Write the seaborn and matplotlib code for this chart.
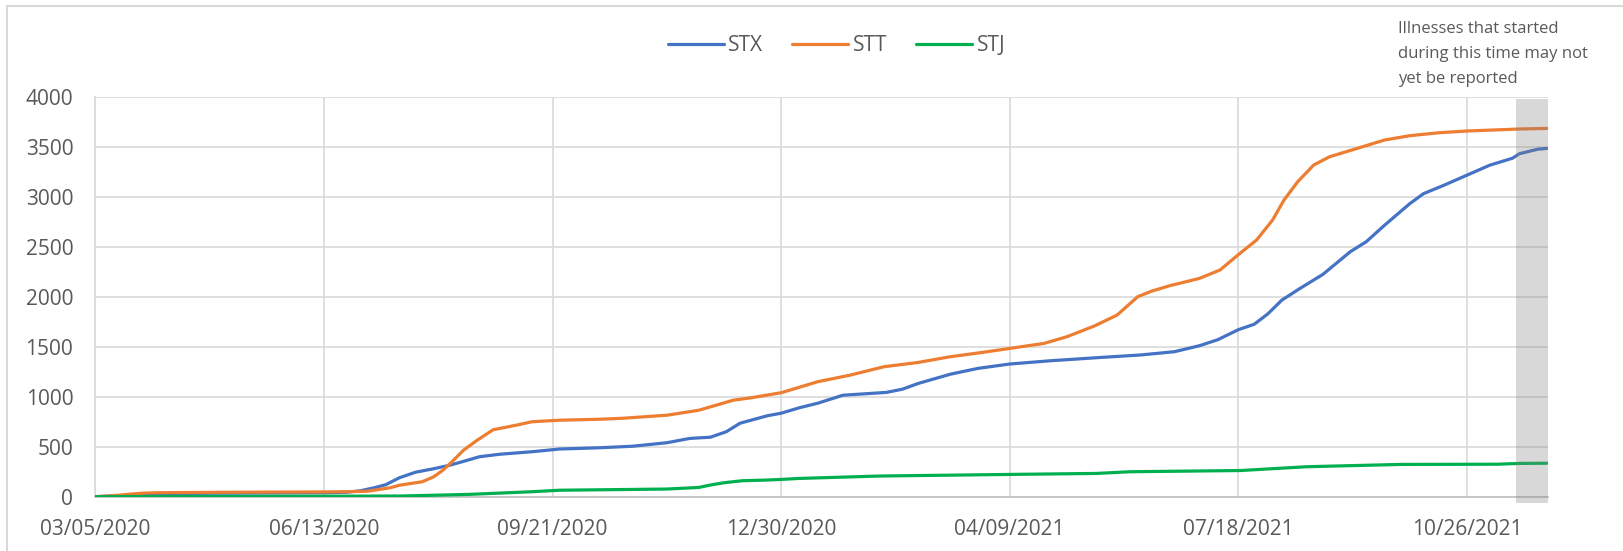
import matplotlib
matplotlib.use("Agg")
import matplotlib.pyplot as plt
import matplotlib.dates as mdates
from matplotlib.lines import Line2D
import seaborn as sns
import pandas as pd
import numpy as np

# ---- data (days since 03/05/2020, cumulative counts) ----
start_date = "2020-03-05"
end_day = 635.5
shade_start_day = 621.7
tick_days = [0, 100, 200, 300, 400, 500, 600]

stx_days = [0, 10, 25, 50, 80, 100, 110, 116, 122, 127, 133, 140, 148, 155, 162, 168, 177, 191, 203, 221,
            235, 250, 260, 269, 276, 282, 294, 300, 308, 316, 327, 346, 353, 360, 374, 386, 400, 418, 440,
            457, 472, 483, 491, 500, 507, 513, 519, 527, 537, 549, 556, 564, 575, 581, 590, 600, 610, 620,
            623, 631, 635]
stx_vals = [0, 10, 30, 35, 38, 40, 45, 60, 90, 120, 190, 245, 280, 315, 360, 400, 425, 450, 477, 490,
            505, 540, 583, 595, 650, 735, 810, 835, 890, 935, 1015, 1043, 1075, 1133, 1225, 1283, 1327, 1360,
            1393, 1417, 1450, 1510, 1570, 1670, 1725, 1830, 1965, 2083, 2223, 2450, 2550, 2715, 2930, 3030,
            3115, 3215, 3315, 3385, 3430, 3475, 3483]

stt_days = [0, 10, 20, 27, 60, 100, 110, 119, 129, 133, 143, 148, 152, 156, 161, 167, 174, 184, 191, 203,
            221, 231, 250, 264, 279, 287, 300, 316, 330, 345, 360, 374, 388, 400, 415, 425, 437, 447, 456,
            462, 470, 483, 492, 500, 508, 515, 520, 526, 533, 540, 552, 564, 575, 588, 600, 623, 635]
stt_vals = [0, 15, 35, 40, 45, 48, 50, 55, 90, 115, 150, 200, 265, 350, 465, 565, 670, 715, 750, 765,
            775, 785, 815, 865, 965, 990, 1040, 1150, 1215, 1300, 1343, 1400, 1443, 1483, 1533, 1600, 1707,
            1817, 2000, 2055, 2110, 2183, 2267, 2420, 2567, 2767, 2967, 3150, 3317, 3400, 3483, 3567, 3610,
            3640, 3657, 3677, 3683]

stj_days = [0, 30, 90, 133, 163, 191, 203, 235, 250, 264, 269, 275, 283, 294, 300, 308, 343, 400, 438,
            453, 501, 530, 571, 613, 623, 635]
stj_vals = [0, 3, 5, 7, 23, 50, 65, 73, 77, 93, 117, 140, 160, 167, 173, 183, 207, 223, 233, 250, 262,
            300, 323, 325, 333, 335]

series_names = ["STX", "STT", "STJ"]
series_colors = ["#4472C4", "#ED7D31", "#00B050"]
y_ticks = [0, 500, 1000, 1500, 2000, 2500, 3000, 3500, 4000]
note_text = "Illnesses that started\nduring this time may not\nyet be reported"

# ---- build table ----
t0 = pd.Timestamp(start_date)
frames = []
for name, d, v in zip(series_names, [stx_days, stt_days, stj_days], [stx_vals, stt_vals, stj_vals]):
    frames.append(pd.DataFrame({"date": t0 + pd.to_timedelta(d, unit="D"), "value": v, "series": name}))
df = pd.concat(frames, ignore_index=True)

sns.set_theme(style="white")
plt.rcParams["font.family"] = ["Open Sans", "DejaVu Sans"]
text_color = "#595959"
grid_color = "#D9D9D9"

fig = plt.figure(figsize=(16.24, 5.51), dpi=100)
ax = fig.add_axes([0.0588, 0.0985, 0.8944, 0.726])

sns.lineplot(data=df, x="date", y="value", hue="series", hue_order=series_names,
             palette=dict(zip(series_names, series_colors)), linewidth=2.3, ax=ax, legend=True,
             zorder=3)

x_end = t0 + pd.Timedelta(days=end_day)
ax.set_xlim(t0, x_end)
ax.set_ylim(0, 4000)
ax.set_xticks([t0 + pd.Timedelta(days=d) for d in tick_days])
ax.xaxis.set_major_formatter(mdates.DateFormatter("%m/%d/%Y"))
ax.set_yticks(y_ticks)
ax.set_xlabel("")
ax.set_ylabel("")
ax.tick_params(axis="x", length=0, pad=16, labelsize=15, colors=text_color)
ax.tick_params(axis="y", length=0, pad=16, labelsize=15, colors=text_color)
ax.grid(True, color=grid_color, linewidth=1.2, zorder=0)
ax.set_axisbelow(True)
for s in ["top", "right"]:
    ax.spines[s].set_visible(False)
ax.spines["left"].set_color(grid_color)
ax.spines["left"].set_linewidth(1.2)
ax.spines["bottom"].set_color("#BFBFBF")
ax.spines["bottom"].set_linewidth(1.2)

# shaded reporting-lag band
ax.axvspan(t0 + pd.Timedelta(days=shade_start_day), x_end, ymin=-0.015, ymax=0.995,
           facecolor="#808080", alpha=0.3, edgecolor="none", zorder=5, clip_on=False)

# legend
handles, labels = ax.get_legend_handles_labels()
ax.get_legend().remove()
fig.legend(handles, labels, loc="center", bbox_to_anchor=(0.515, 0.917), ncol=3, frameon=False,
           fontsize=15, handlelength=2.7, handletextpad=0.2, columnspacing=1.4, labelcolor=text_color)

fig.text(1398 / 1624, 1 - 21 / 551, note_text, ha="left", va="top", fontsize=12,
         color=text_color, linespacing=1.75)

# chart-area border (top and left edges visible in the reference crop)
fig.add_artist(Line2D([7 / 1624, 1.0], [1 - 6 / 551, 1 - 6 / 551], transform=fig.transFigure,
                      color=grid_color, linewidth=1.5))
fig.add_artist(Line2D([7 / 1624, 7 / 1624], [0.0, 1 - 6 / 551], transform=fig.transFigure,
                      color=grid_color, linewidth=1.5))

fig.savefig("out.png", dpi=100, facecolor="white")
